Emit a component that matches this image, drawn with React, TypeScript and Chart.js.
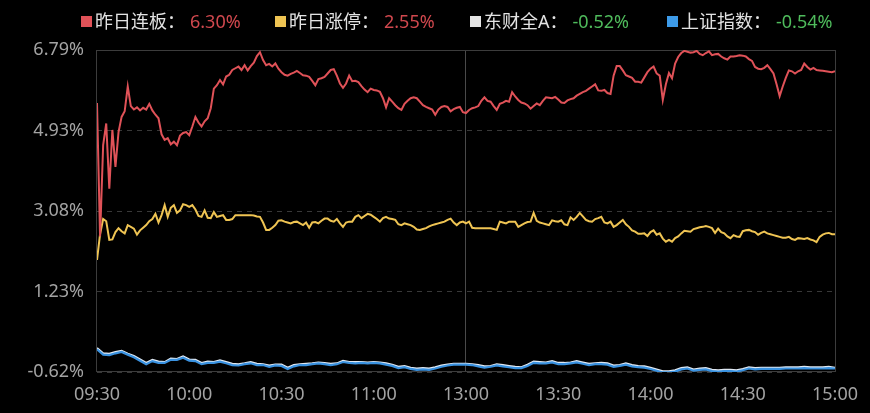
import React, { useEffect, useRef } from "react";
import { Chart, registerables } from "chart.js";

Chart.register(...registerables);

// ---- Data ----
const xTickMinutes = [0, 30, 60, 90, 120, 150, 180, 210, 240];
const xTickLabels = ["09:30", "10:00", "10:30", "11:00", "13:00", "13:30", "14:00", "14:30", "15:00"];
const yTicks = [-0.62, 1.23, 3.08, 4.93, 6.79];

const seriesNames = ["昨日连板", "昨日涨停", "东财全A", "上证指数"];
const latestValues = [6.3, 2.55, -0.52, -0.54];

// 1-minute samples (09:30 … 15:00, 241 points)
const lianbanValues = [
  5.57, 2.5, 4.6, 5.1, 3.6, 4.95, 4.1, 4.9, 5.25, 5.38,
  5.95, 5.5, 5.42, 5.47, 5.4, 5.46, 5.42, 5.55, 5.4, 5.3,
  5.22, 4.85, 4.72, 4.76, 4.62, 4.68, 4.6, 4.82, 4.88, 4.9,
  4.83, 5.03, 5.25, 5.12, 5.03, 5.15, 5.22, 5.45, 5.9, 5.98,
  6.1, 6.0, 6.18, 6.22, 6.33, 6.37, 6.41, 6.33, 6.44, 6.32,
  6.42, 6.5, 6.65, 6.74, 6.56, 6.44, 6.47, 6.41, 6.48, 6.36,
  6.28, 6.22, 6.2, 6.24, 6.27, 6.31, 6.26, 6.21, 6.2, 6.17,
  6.08, 5.98, 6.12, 6.14, 6.17, 6.25, 6.33, 6.35, 6.2, 6.02,
  5.92, 6.02, 6.2, 6.07, 6.08, 6.05, 5.96, 5.88, 5.82, 5.9,
  5.87, 5.86, 5.83, 5.68, 5.47, 5.68, 5.6, 5.52, 5.45, 5.41,
  5.55, 5.62, 5.68, 5.7, 5.68, 5.6, 5.52, 5.48, 5.45, 5.42,
  5.3, 5.42, 5.48, 5.5, 5.48, 5.38, 5.43, 5.46, 5.48, 5.36,
  5.34, 5.41, 5.45, 5.47, 5.5, 5.62, 5.7, 5.62, 5.6, 5.5,
  5.41, 5.55, 5.58, 5.62, 5.6, 5.82, 5.72, 5.64, 5.58, 5.56,
  5.52, 5.44, 5.5, 5.56, 5.52, 5.62, 5.7, 5.69, 5.68, 5.71,
  5.65, 5.58, 5.57, 5.63, 5.66, 5.68, 5.74, 5.78, 5.82, 5.85,
  5.9, 5.95, 6.0, 5.86, 5.85, 5.87, 5.8, 5.78, 6.2, 6.42,
  6.42, 6.32, 6.21, 6.18, 6.15, 6.06, 6.06, 6.04, 6.16, 6.28,
  6.36, 6.41, 6.25, 6.2, 5.64, 6.0, 6.26, 6.14, 6.48, 6.63,
  6.72, 6.77, 6.75, 6.73, 6.74, 6.77, 6.7, 6.67, 6.72, 6.76,
  6.67, 6.69, 6.7, 6.64, 6.6, 6.57, 6.64, 6.64, 6.65, 6.67,
  6.66, 6.64, 6.58, 6.54, 6.4, 6.36, 6.35, 6.38, 6.44, 6.35,
  6.25, 6.0, 5.73, 5.95, 6.15, 6.32, 6.3, 6.25, 6.3, 6.33,
  6.48, 6.4, 6.34, 6.38, 6.33, 6.32, 6.31, 6.3, 6.29, 6.28,
  6.3,
];

const zhangtingValues = [
  1.96, 2.55, 2.9, 2.85, 2.42, 2.43, 2.6, 2.69, 2.62, 2.57,
  2.76, 2.72, 2.68, 2.54, 2.64, 2.7, 2.76, 2.85, 2.9, 3.02,
  2.82, 2.99, 3.22, 2.95, 3.16, 3.22, 3.04, 3.1, 3.24, 3.22,
  3.18, 3.22, 3.12, 2.97, 2.95, 3.1, 2.93, 2.92, 3.06, 2.95,
  2.97, 2.99, 2.88, 2.88, 2.9, 2.99, 2.99, 2.99, 2.99, 2.99,
  2.99, 2.98, 2.96, 2.95, 2.82, 2.65, 2.65, 2.7, 2.76, 2.86,
  2.87, 2.84, 2.82, 2.8, 2.83, 2.84, 2.8, 2.76, 2.82, 2.7,
  2.82, 2.83, 2.8, 2.86, 2.91, 2.91, 2.86, 2.84, 2.9, 2.8,
  2.72, 2.82, 2.84, 2.84, 2.95, 2.99, 2.92, 2.97, 3.02, 3.0,
  2.95, 2.9, 2.84, 2.92, 2.95, 2.91, 2.9, 2.88, 2.78, 2.76,
  2.8, 2.78, 2.76, 2.72, 2.66, 2.65, 2.67, 2.69, 2.73, 2.76,
  2.78, 2.8, 2.82, 2.84, 2.88, 2.91, 2.82, 2.76, 2.82, 2.84,
  2.8, 2.84, 2.7, 2.69, 2.69, 2.69, 2.69, 2.69, 2.69, 2.67,
  2.65, 2.84, 2.82, 2.8, 2.84, 2.84, 2.84, 2.72, 2.76, 2.8,
  2.83, 2.84, 3.04, 2.86, 2.82, 2.8, 2.78, 2.76, 2.87, 2.85,
  2.84, 2.87, 2.78, 2.76, 2.94, 2.88, 2.95, 3.04, 2.96, 2.88,
  2.85, 2.84, 2.9, 2.92, 2.95, 2.82, 2.8, 2.84, 2.72, 2.76,
  2.82, 2.88, 2.78, 2.72, 2.64, 2.61, 2.56, 2.56, 2.57, 2.51,
  2.6, 2.64, 2.54, 2.57, 2.45, 2.38, 2.42, 2.38, 2.46, 2.5,
  2.57, 2.63, 2.62, 2.61, 2.67, 2.69, 2.71, 2.72, 2.74, 2.72,
  2.69, 2.58, 2.68, 2.6, 2.57, 2.5, 2.46, 2.53, 2.5, 2.49,
  2.62, 2.64, 2.65, 2.62, 2.6, 2.54, 2.58, 2.61, 2.57, 2.55,
  2.53, 2.51, 2.49, 2.47, 2.47, 2.49, 2.44, 2.42, 2.46, 2.45,
  2.44, 2.46, 2.43, 2.41, 2.37, 2.49, 2.54, 2.57, 2.58, 2.55,
  2.55,
];

// 2-minute samples (121 points)
const dongcaiValues = [
  -0.07, -0.19, -0.2, -0.16, -0.13, -0.2, -0.25, -0.33, -0.41, -0.34,
  -0.38, -0.39, -0.31, -0.32, -0.26, -0.33, -0.34, -0.41, -0.38, -0.39,
  -0.35, -0.39, -0.43, -0.44, -0.42, -0.39, -0.43, -0.44, -0.47, -0.45,
  -0.45, -0.52, -0.46, -0.44, -0.43, -0.42, -0.4, -0.41, -0.43, -0.42,
  -0.36, -0.39, -0.39, -0.39, -0.4, -0.39, -0.4, -0.42, -0.45, -0.5,
  -0.48, -0.52, -0.54, -0.53, -0.54, -0.51, -0.47, -0.45, -0.43, -0.43,
  -0.43, -0.44, -0.46, -0.49, -0.48, -0.44, -0.46, -0.48, -0.5, -0.51,
  -0.45, -0.38, -0.39, -0.4, -0.37, -0.41, -0.41, -0.4, -0.37, -0.4,
  -0.43, -0.42, -0.41, -0.42, -0.47, -0.46, -0.42, -0.46, -0.48, -0.49,
  -0.52, -0.56, -0.6, -0.6, -0.58, -0.53, -0.51, -0.56, -0.54, -0.53,
  -0.57, -0.58, -0.57, -0.57, -0.58, -0.55, -0.51, -0.53, -0.52, -0.52,
  -0.52, -0.52, -0.51, -0.51, -0.51, -0.5, -0.51, -0.51, -0.51, -0.5,
  -0.52,
];

const shangzhengValues = [
  -0.1, -0.22, -0.23, -0.19, -0.16, -0.22, -0.28, -0.36, -0.44, -0.37,
  -0.41, -0.41, -0.34, -0.34, -0.29, -0.36, -0.37, -0.44, -0.41, -0.41,
  -0.38, -0.42, -0.46, -0.47, -0.44, -0.42, -0.46, -0.46, -0.5, -0.47,
  -0.48, -0.55, -0.49, -0.46, -0.46, -0.44, -0.42, -0.44, -0.46, -0.44,
  -0.39, -0.41, -0.42, -0.41, -0.42, -0.41, -0.42, -0.45, -0.48, -0.53,
  -0.51, -0.55, -0.57, -0.56, -0.57, -0.54, -0.5, -0.47, -0.45, -0.45,
  -0.45, -0.46, -0.49, -0.52, -0.5, -0.47, -0.49, -0.51, -0.53, -0.53,
  -0.48, -0.41, -0.42, -0.42, -0.4, -0.44, -0.44, -0.42, -0.4, -0.43,
  -0.46, -0.44, -0.44, -0.45, -0.5, -0.48, -0.45, -0.49, -0.51, -0.52,
  -0.55, -0.59, -0.63, -0.63, -0.61, -0.56, -0.54, -0.59, -0.57, -0.56,
  -0.6, -0.61, -0.6, -0.6, -0.61, -0.58, -0.54, -0.56, -0.55, -0.55,
  -0.55, -0.55, -0.54, -0.54, -0.54, -0.53, -0.54, -0.54, -0.54, -0.53,
  -0.54,
];

const lineColors = ["#e05258", "#efc453", "#dfe8f2", "#3a92e0"];
const legendBoxColors = ["#e05258", "#efc453", "#e4e4e4", "#3d9be9"];
const FONT = "'Noto Sans', 'Noto Sans CJK SC', sans-serif";

const toPoints = (vals: number[], step: number) => vals.map((v, i) => ({ x: i * step, y: v }));

const framePlugin = {
  id: "frame",
  beforeDatasetsDraw(chart: any) {
    const { ctx, chartArea } = chart;
    ctx.save();
    ctx.strokeStyle = "#3c3c3c";
    ctx.lineWidth = 1;
    ctx.setLineDash([]);
    ctx.strokeRect(
      Math.round(chartArea.left) - 0.5,
      Math.round(chartArea.top) + 0.5,
      Math.round(chartArea.right - chartArea.left) + 1,
      Math.round(chartArea.bottom - chartArea.top) - 1
    );
    ctx.restore();
  },
};

export default function App() {
  const canvasRef = useRef<HTMLCanvasElement | null>(null);

  useEffect(() => {
    document.body.style.margin = "0";
    document.body.style.background = "#000";
    const canvas = canvasRef.current;
    if (!canvas) return;
    const chart = new Chart(canvas, {
      type: "line",
      data: {
        datasets: [
          { label: seriesNames[0], data: toPoints(lianbanValues, 1), borderColor: lineColors[0], borderWidth: 2, order: 0 },
          { label: seriesNames[1], data: toPoints(zhangtingValues, 1), borderColor: lineColors[1], borderWidth: 2, order: 0 },
          { label: seriesNames[2], data: toPoints(dongcaiValues, 2), borderColor: lineColors[2], borderWidth: 2, order: 2 },
          { label: seriesNames[3], data: toPoints(shangzhengValues, 2), borderColor: lineColors[3], borderWidth: 2.2, order: 1 },
        ].map((d) => ({ ...d, pointRadius: 0, tension: 0, fill: false })),
      },
      plugins: [framePlugin],
      options: {
        animation: false,
        responsive: false,
        maintainAspectRatio: false,
        layout: { padding: { top: 50, right: 32, bottom: 0, left: 0 } },
        plugins: { legend: { display: false }, tooltip: { enabled: false } },
        scales: {
          x: {
            type: "linear",
            min: 0,
            max: 240,
            afterBuildTicks: (scale: any) => {
              scale.ticks = xTickMinutes.map((v) => ({ value: v }));
            },
            afterFit: (scale: any) => {
              scale.height = 41;
            },
            ticks: {
              color: "#a3a3a3",
              font: { size: 18, family: FONT },
              padding: 12,
              maxRotation: 0,
              autoSkip: false,
              callback: (value: any) => xTickLabels[xTickMinutes.indexOf(Number(value))] ?? "",
            },
            grid: {
              drawTicks: false,
              color: (c: any) => (c.tick && c.tick.value === 120 ? "#4a4a4a" : "rgba(0,0,0,0)"),
              lineWidth: 1,
            },
            border: { display: false },
          },
          y: {
            type: "linear",
            min: yTicks[0],
            max: yTicks[yTicks.length - 1],
            afterBuildTicks: (scale: any) => {
              scale.ticks = yTicks.map((v) => ({ value: v }));
            },
            afterFit: (scale: any) => {
              scale.width = 97;
            },
            ticks: {
              color: "#a3a3a3",
              font: { size: 18, family: FONT },
              padding: 13,
              autoSkip: false,
              callback: (value: any) => Number(value).toFixed(2) + "%",
            },
            grid: { drawTicks: false, color: "#383838", lineWidth: 1 },
            border: { display: false, dash: [5, 5] },
          },
        },
      },
    } as any);
    return () => chart.destroy();
  }, []);

  const legendLefts = [81, 275, 470, 667];

  return (
    <div style={{ position: "fixed", left: 0, top: 0, width: 870, height: 413, background: "#000", overflow: "hidden" }}>
      <canvas ref={canvasRef} width={870} height={413} style={{ position: "absolute", left: 0, top: 0, width: 870, height: 413 }} />
      {seriesNames.map((name, i) => {
        const v = latestValues[i];
        const valueColor = v >= 0 ? "#d0484e" : "#4fbb5c";
        return (
          <div
            key={name}
            style={{
              position: "absolute",
              left: legendLefts[i],
              top: 9,
              height: 24,
              display: "flex",
              alignItems: "center",
              fontFamily: FONT,
              fontSize: 18,
              lineHeight: "24px",
              whiteSpace: "nowrap",
            }}
          >
            <span style={{ display: "inline-block", width: 11, height: 11, background: legendBoxColors[i], marginRight: 3 }} />
            <span style={{ color: "#e2e2e2" }}>{name}：</span>
            <span style={{ color: valueColor, marginLeft: 5 }}>{v.toFixed(2)}%</span>
          </div>
        );
      })}
    </div>
  );
}
